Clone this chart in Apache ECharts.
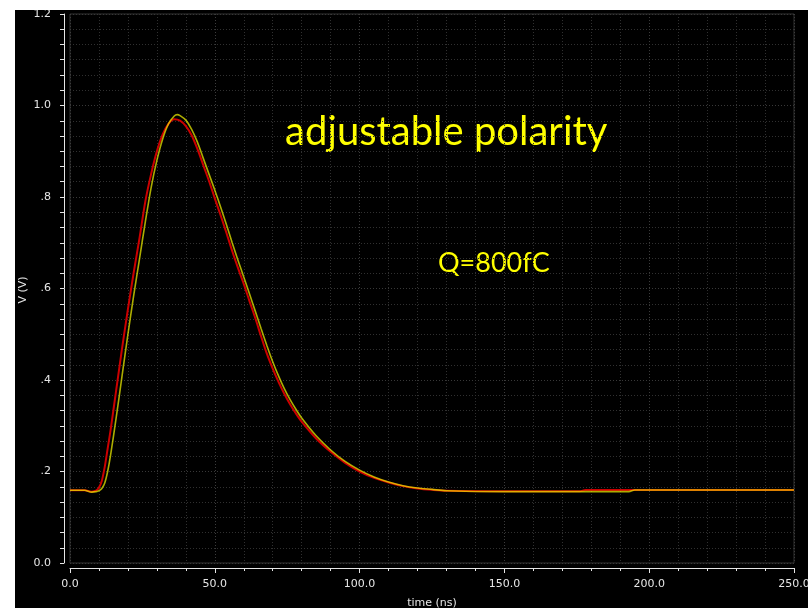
<!DOCTYPE html>
<html>
<head>
<meta charset="utf-8">
<script src="https://cdn.jsdelivr.net/npm/echarts@6/dist/echarts.min.js"></script>
<style>
  html, body { margin: 0; padding: 0; background: #ffffff; width: 808px; height: 608px; overflow: hidden; }
  #chart { position: absolute; left: 15px; top: 10px; width: 793px; height: 598px; background: #000; }
</style>
</head>
<body>
<div id="chart"></div>
<script>
// time (ns)
const timeRed = [0, 5, 7.5, 9, 10, 11, 12, 13, 14, 16, 18, 20, 22, 24, 26, 28, 30, 32, 34, 36, 38, 40, 42, 44, 46, 48, 50, 52, 54, 56, 58, 60, 62, 64, 66, 68, 70, 72, 74, 76, 78, 80, 85, 90, 95, 100, 105, 110, 115, 120, 125, 130, 150, 176, 178, 200, 250];
const vRed    = [0.159, 0.159, 0.156, 0.158, 0.165, 0.180, 0.210, 0.250, 0.290, 0.380, 0.470, 0.555, 0.635, 0.710, 0.790, 0.850, 0.900, 0.937, 0.960, 0.970, 0.967, 0.955, 0.935, 0.905, 0.870, 0.835, 0.797, 0.760, 0.722, 0.682, 0.645, 0.610, 0.572, 0.535, 0.495, 0.457, 0.425, 0.396, 0.370, 0.347, 0.327, 0.309, 0.272, 0.243, 0.219, 0.200, 0.186, 0.176, 0.168, 0.163, 0.160, 0.158, 0.157, 0.157, 0.1595, 0.1595, 0.1595];
const timeYellow = [0, 5, 7.5, 9, 10, 11, 12, 13, 14, 16, 18, 20, 22, 24, 26, 28, 30, 32, 34, 36, 37, 38, 40, 42, 44, 46, 48, 50, 52, 54, 56, 58, 60, 62, 64, 66, 68, 70, 72, 74, 76, 78, 80, 85, 90, 95, 100, 105, 110, 115, 120, 125, 130, 150, 193, 195, 220, 250];
const vYellow    = [0.159, 0.159, 0.155, 0.156, 0.158, 0.163, 0.175, 0.200, 0.235, 0.320, 0.410, 0.500, 0.585, 0.665, 0.745, 0.820, 0.880, 0.927, 0.960, 0.977, 0.980, 0.978, 0.968, 0.948, 0.920, 0.885, 0.850, 0.815, 0.778, 0.740, 0.700, 0.662, 0.625, 0.588, 0.550, 0.512, 0.475, 0.440, 0.409, 0.381, 0.357, 0.336, 0.317, 0.278, 0.247, 0.222, 0.203, 0.188, 0.177, 0.169, 0.164, 0.161, 0.158, 0.156, 0.156, 0.1595, 0.1595, 0.1595];
const yTickLabels = { '0': '0.0', '0.2': '.2', '0.4': '.4', '0.6': '.6', '0.8': '.8', '1': '1.0', '1.2': '1.2' };
const xAxisName = 'time (ns)';
const yAxisName = 'V (V)';
const titleText = 'adjustable polarity';
const chargeText = 'Q=800fC';

const chart = echarts.init(document.getElementById('chart'), null, { renderer: 'canvas' });
const pairs = (t, v) => t.map((x, i) => [x, v[i]]);
const labelColor = '#e6e6e6';
const gridDot = [1, 2];

chart.setOption({
  backgroundColor: '#000',
  animation: false,
  grid: { left: 55, right: 14, top: 4, bottom: 45, show: true, borderColor: '#333333', borderWidth: 1,
          containLabel: false, outerBoundsMode: 'none' },
  xAxis: {
    type: 'value', min: 0, max: 250, interval: 50,
    offset: 5,
    axisLine: { show: true, onZero: false, lineStyle: { color: '#e6e6e6', width: 1 } },
    axisTick: { show: true, inside: false, length: 5, lineStyle: { color: '#e6e6e6' } },
    minorTick: { show: true, splitNumber: 5, length: 3, lineStyle: { color: '#e6e6e6' } },
    axisLabel: { color: labelColor, fontFamily: 'DejaVu Sans', fontSize: 11, margin: 11, formatter: v => v.toFixed(1) },
    splitLine: { show: true, lineStyle: { color: '#3c3c3c', type: gridDot } },
    minorSplitLine: { show: true, lineStyle: { color: '#303030', type: gridDot } }
  },
  yAxis: {
    type: 'value', min: 0, max: 1.2, interval: 0.2,
    offset: 6,
    axisLine: { show: true, onZero: false, lineStyle: { color: '#e6e6e6', width: 1 } },
    axisTick: { show: true, inside: false, length: 4, lineStyle: { color: '#e6e6e6' } },
    minorTick: { show: true, splitNumber: 6, length: 4, lineStyle: { color: '#e6e6e6' } },
    axisLabel: { color: labelColor, fontFamily: 'DejaVu Sans', fontSize: 11, margin: 13,
      formatter: v => yTickLabels[String(Math.round(v * 10) / 10)] || '' },
    splitLine: { show: true, lineStyle: { color: '#383838', type: gridDot } },
    minorSplitLine: { show: true, lineStyle: { color: '#303030', type: gridDot } }
  },
  series: [
    { type: 'line', name: 'red', data: pairs(timeRed, vRed), showSymbol: false, smooth: 0.3,
      lineStyle: { color: '#cc0000', width: 2 }, z: 3 },
    { type: 'line', name: 'yellow', data: pairs(timeYellow, vYellow), showSymbol: false, smooth: 0.3,
      lineStyle: { color: '#eeee00', width: 1.6, opacity: 0.72 }, z: 4 }
  ],
  graphic: [
    { type: 'text', x: 417, y: 593, style: { text: xAxisName, fill: labelColor, font: '11px "DejaVu Sans"', align: 'center', verticalAlign: 'middle' } },
    { type: 'text', x: 8, y: 280, rotation: Math.PI / 2, style: { text: yAxisName, fill: labelColor, font: '11px "DejaVu Sans"', align: 'center', verticalAlign: 'middle' } },
    { type: 'text', x: 270, y: 122, style: { text: titleText, fill: '#ffff00', font: '40px Lato', verticalAlign: 'middle', align: 'left' } },
    { type: 'text', x: 423, y: 253, style: { text: chargeText, fill: '#ffff00', font: '27px Lato', verticalAlign: 'middle', align: 'left' } }
  ]
});
</script>
</body>
</html>
